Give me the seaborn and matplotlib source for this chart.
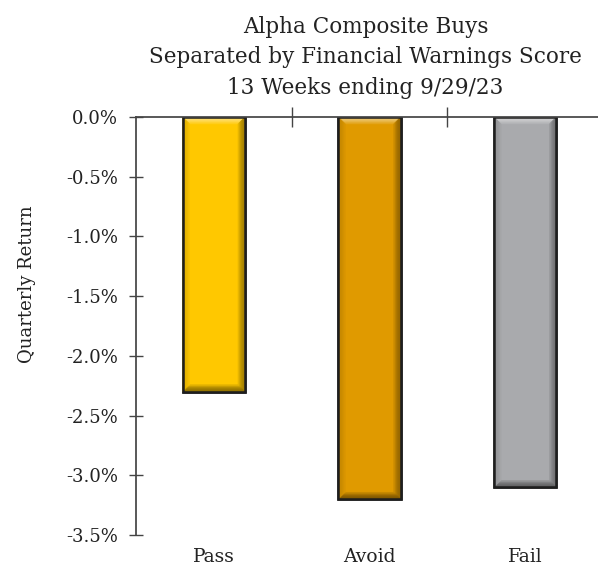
import matplotlib
matplotlib.use("Agg")
import matplotlib.pyplot as plt
import matplotlib.colors as mcolors
from matplotlib.patches import Polygon
import seaborn as sns
import pandas as pd
import numpy as np
from matplotlib.ticker import FuncFormatter

# Quarterly return by Financial Warnings Score bucket
categories = ["Pass", "Avoid", "Fail"]
returns_pct = [-2.3, -3.2, -3.1]
bar_colors = ["#FFC800", "#E09A00", "#A9AAAD"]
title_lines = ["Alpha Composite Buys",
               "Separated by Financial Warnings Score",
               "13 Weeks ending 9/29/23"]

df = pd.DataFrame({"Score": categories, "Return": returns_pct})

sns.set_theme(style="white")
plt.rcParams["font.family"] = ["DejaVu Serif"]

fig = plt.figure(figsize=(5.98, 5.67), dpi=100)
ax = fig.add_axes([0.2274, 0.0564, 0.781, 0.7373])

sns.barplot(data=df, x="Score", y="Return", hue="Score", order=categories,
            palette=bar_colors, width=0.4, legend=False, ax=ax,
            edgecolor="#1e1e1e", linewidth=1.8, saturation=1)

ax.set_ylim(-3.5, 0)
ax.set_xlim(-0.5, 2.5)


def shade(color, amount):
    """Blend towards white (amount > 0) or black (amount < 0)."""
    rgb = np.array(mcolors.to_rgb(color))
    target = np.ones(3) if amount > 0 else np.zeros(3)
    return tuple(rgb + (target - rgb) * abs(amount))


# Soft bevel on each bar: light top edge, darker right and bottom edges
fig.canvas.draw()
to_px = ax.transData
to_data = ax.transData.inverted()
bevel_px = 7
steps = 7
edge_strength = {"top": 0.45, "right": -0.35, "bottom": -0.45, "left": -0.12}
for patch, color in zip(ax.patches, bar_colors):
    x0, y0 = patch.get_x(), patch.get_y()
    x1, y1 = x0 + patch.get_width(), y0 + patch.get_height()
    (px0, py0), (px1, py1) = to_px.transform([(x0, min(y0, y1)), (x1, max(y0, y1))])
    z = patch.get_zorder()
    for i in range(steps):
        a = bevel_px * i / steps
        b = bevel_px * (i + 1) / steps
        fade = 1 - (i / steps) ** 2
        o = [(px0 + a, py1 - a), (px1 - a, py1 - a), (px1 - a, py0 + a), (px0 + a, py0 + a)]
        n = [(px0 + b, py1 - b), (px1 - b, py1 - b), (px1 - b, py0 + b), (px0 + b, py0 + b)]
        strips = {
            "top": [o[0], o[1], n[1], n[0]],
            "right": [o[1], o[2], n[2], n[1]],
            "bottom": [o[2], o[3], n[3], n[2]],
            "left": [o[3], o[0], n[0], n[3]],
        }
        for side, pts in strips.items():
            fc = shade(color, edge_strength[side] * fade)
            ax.add_patch(Polygon(to_data.transform(pts), closed=True,
                                 facecolor=fc, edgecolor=fc, linewidth=0.3,
                                 zorder=z + 0.1))
    outline = [(px0, py1), (px1, py1), (px1, py0), (px0, py0)]
    ax.add_patch(Polygon(to_data.transform(outline), closed=True,
                         facecolor="none", edgecolor="#1e1e1e", linewidth=1.8,
                         zorder=z + 0.2))

ax.set_yticks([0, -0.5, -1.0, -1.5, -2.0, -2.5, -3.0, -3.5])
ax.yaxis.set_major_formatter(FuncFormatter(lambda v, _: f"{v:.1f}%"))
ax.tick_params(axis="y", left=True, direction="inout", length=10, width=1,
               color="#444444", labelsize=13, pad=8, labelcolor="#222222")

# Zero line with category separators
ax.spines["bottom"].set_position(("data", 0))
ax.spines["bottom"].set_color("#444444")
ax.spines["bottom"].set_zorder(5)
ax.spines["left"].set_color("#444444")
ax.spines["top"].set_visible(False)
ax.spines["right"].set_visible(False)
ax.set_xticks([0.5, 1.5])
ax.set_xticklabels([])
ax.tick_params(axis="x", direction="inout", length=14, width=1,
               color="#444444", bottom=True)
ax.set_xlabel("")

# Category names along the bottom edge
sec = ax.secondary_xaxis("bottom")
sec.set_xticks([0, 1, 2])
sec.set_xticklabels(categories, fontsize=13.5, color="#222222")
sec.tick_params(length=0, pad=9)
sec.spines["bottom"].set_visible(False)

ax.set_ylabel("Quarterly Return", fontsize=13, color="#222222")
ax.yaxis.set_label_coords(-0.215, 0.6)

fig.suptitle("\n".join(title_lines), x=0.611, y=0.972, fontsize=15.5,
             linespacing=1.5, va="top", color="#222222")

fig.savefig("out.png", dpi=100)
